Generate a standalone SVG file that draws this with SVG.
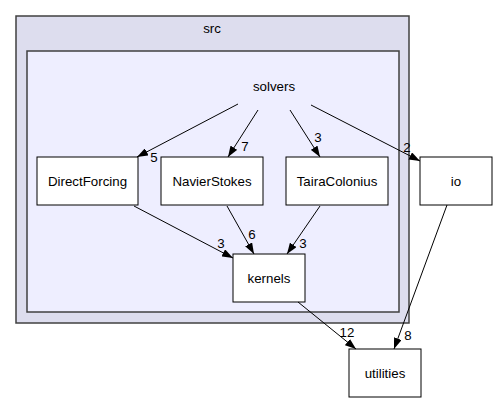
<svg xmlns="http://www.w3.org/2000/svg" width="497" height="403" viewBox="0 0 497 403">
<defs>
<marker id="ah" viewBox="0 0 11 8" refX="11" refY="4" markerWidth="11" markerHeight="8" markerUnits="userSpaceOnUse" orient="auto">
<polygon points="0,0 11,4 0,8" fill="#000"/>
</marker>
<style>
text{font-family:"Liberation Sans",Arial,Helvetica,sans-serif;font-size:13.3px;fill:#000;text-anchor:middle}
.lbl{font-size:13.3px}
.node rect{fill:#fff;stroke:#000;stroke-width:1}
.edges line{stroke:#000;stroke-width:1;marker-end:url(#ah)}
</style>
</defs>
<rect width="497" height="403" fill="#fff"/>
<g id="cluster_src">
<rect x="16" y="16" width="393" height="307" fill="#ddddee" stroke="#404040" stroke-width="1.5"/>
<text x="212" y="33">src</text>
</g>
<g id="cluster_solvers">
<rect x="27" y="51" width="372" height="261" fill="#eeeeff" stroke="#404040" stroke-width="1.5"/>
<text x="274" y="91">solvers</text>
</g>
<g id="DirectForcing" class="node"><rect x="37" y="157" width="101" height="48"/><text x="87.5" y="186">DirectForcing</text></g>
<g id="NavierStokes" class="node"><rect x="161" y="157" width="102" height="48"/><text x="212" y="186">NavierStokes</text></g>
<g id="TairaColonius" class="node"><rect x="286" y="157" width="102" height="48"/><text x="337" y="186">TairaColonius</text></g>
<g id="io" class="node"><rect x="420" y="157" width="72" height="48"/><text x="456" y="186">io</text></g>
<g id="kernels" class="node"><rect x="233" y="254" width="72" height="48"/><text x="269" y="283">kernels</text></g>
<g id="utilities" class="node"><rect x="349" y="349" width="72" height="48"/><text x="385" y="378">utilities</text></g>
<g id="edges" class="edges">
<line x1="238" y1="104" x2="137" y2="157"/>
<line x1="258" y1="110" x2="228" y2="157"/>
<line x1="290" y1="110" x2="320" y2="157"/>
<line x1="311" y1="105" x2="420" y2="161"/>
<line x1="134" y1="206" x2="233" y2="258"/>
<line x1="227" y1="206" x2="254" y2="254"/>
<line x1="320" y1="206" x2="287" y2="254"/>
<line x1="298" y1="302" x2="356" y2="349"/>
<line x1="447" y1="205" x2="394" y2="349"/>
<text class="lbl" x="154" y="162">5</text>
<text class="lbl" x="245" y="151">7</text>
<text class="lbl" x="318" y="142">3</text>
<text class="lbl" x="407" y="152">2</text>
<text class="lbl" x="221" y="248">3</text>
<text class="lbl" x="252" y="239">6</text>
<text class="lbl" x="303" y="248">3</text>
<text class="lbl" x="347" y="337">12</text>
<text class="lbl" x="408" y="340">8</text>
</g>
</svg>
